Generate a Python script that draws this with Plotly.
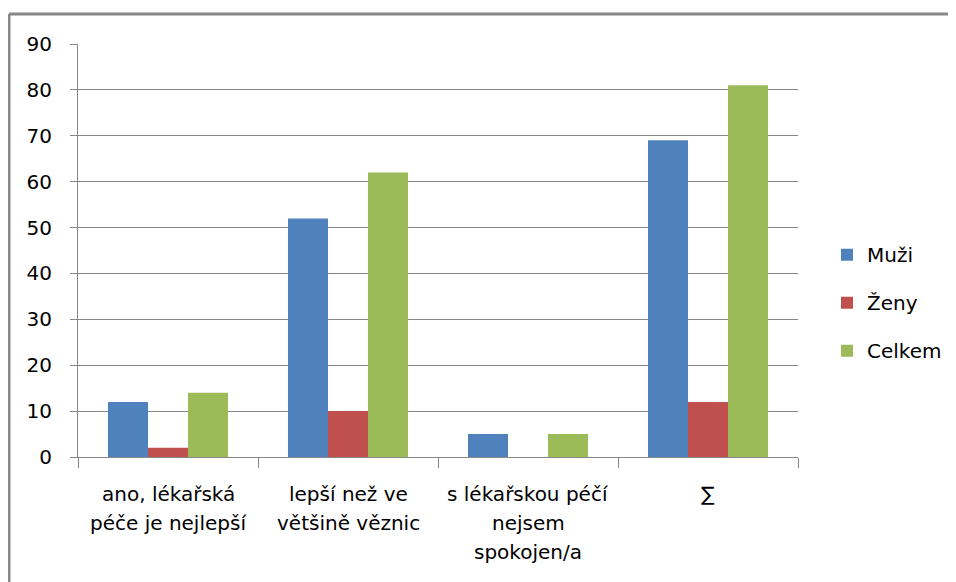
import plotly.graph_objects as go

categories = ["ano, lékařská péče je nejlepší", "lepší než ve většině věznic",
              "s lékařskou péčí nejsem spokojen/a", "∑"]
label_lines = [["ano, lékařská", "péče je nejlepší"],
               ["lepší než ve", "většině věznic"],
               ["s lékařskou péčí", "nejsem", "spokojen/a"],
               ["∑"]]
muzi = [12, 52, 5, 69]
zeny = [2, 10, 0, 12]
celkem = [14, 62, 5, 81]
series_names = ["Muži", "Ženy", "Celkem"]
colors = ["#4F81BD", "#C0504D", "#9BBB59"]
y_ticks = [0, 10, 20, 30, 40, 50, 60, 70, 80, 90]

FONT = "DejaVu Sans"
FS = 20
OFF = 8  # page body margin
W, H = 948, 574
L, T = 78 - OFF, 44 - OFF
pw, ph = 720, 413.5
R = W - L - pw
B = H - T - ph

fig = go.Figure()
for i, (name, vals) in enumerate(zip(series_names, [muzi, zeny, celkem])):
    fig.add_trace(go.Bar(x=categories, y=vals, name=name,
                         marker=dict(color=colors[i], line=dict(width=0)),
                         legendgroup=name))

annotations = []
for cat, lines in zip(categories, label_lines):
    for j, ln in enumerate(lines):
        annotations.append(dict(x=cat, xref="x", y=0, yref="paper",
                                text=ln, showarrow=False, yanchor="middle",
                                yshift=-37 - 29 * j,
                                font=dict(family=FONT, size=FS, color="#000000")))

def px_x(p):
    return (p - OFF - L) / pw

def px_y(q):
    return (H - B - (q - OFF)) / ph

shapes = [
    dict(type="line", xref="paper", yref="paper", x0=px_x(9), x1=px_x(1200),
         y0=px_y(14), y1=px_y(14), line=dict(color="#878787", width=3)),
    dict(type="line", xref="paper", yref="paper", x0=px_x(9), x1=px_x(9),
         y0=px_y(14), y1=px_y(900), line=dict(color="#878787", width=3)),
]

fig.update_layout(
    width=W, height=H,
    margin=dict(l=L, r=R, t=T, b=B, autoexpand=False),
    paper_bgcolor="white", plot_bgcolor="white",
    barmode="group", bargap=1/3, bargroupgap=0,
    font=dict(family=FONT, size=FS, color="#000000"),
    xaxis=dict(showticklabels=False, tickson="boundaries", ticks="outside",
               ticklen=10, tickcolor="#878787", tickwidth=1,
               showline=True, linecolor="#878787", linewidth=1,
               showgrid=False, zeroline=False, fixedrange=True),
    yaxis=dict(range=[0, 90], tickvals=y_ticks, ticks="outside", ticklen=7,
               tickcolor="#878787", tickwidth=1, showline=True,
               linecolor="#878787", linewidth=1, showgrid=True,
               gridcolor="#878787", gridwidth=1, zeroline=False,
               ticklabelstandoff=14, tickfont=dict(family=FONT, size=FS),
               fixedrange=True),
    legend=dict(x=px_x(827), xanchor="left", y=px_y(303), yanchor="middle",
                traceorder="grouped", tracegroupgap=19,
                font=dict(family=FONT, size=FS, color="#000000"),
                bgcolor="rgba(0,0,0,0)"),
    annotations=annotations,
    shapes=shapes,
)

fig.write_html("out.html")
